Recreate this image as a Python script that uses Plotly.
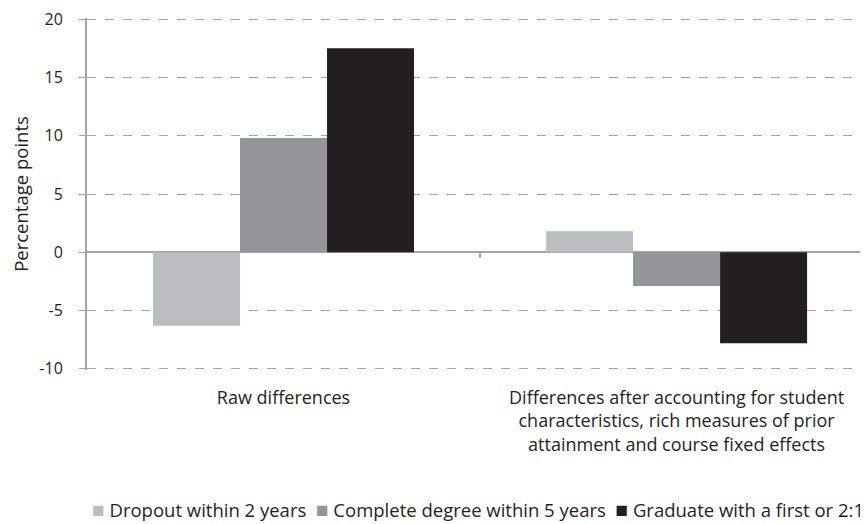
import plotly.graph_objects as go

# data
categories = [
    "Raw differences",
    "Differences after accounting for student<br>characteristics, rich measures of prior<br>attainment and course fixed effects",
]
series_names = [
    "Dropout within 2 years",
    "Complete degree within 5 years",
    "Graduate with a first or 2:1",
]
dropout = [-6.3, 1.8]
complete = [9.8, -2.9]
graduate = [17.5, -7.8]
colors = ["#bcbdc0", "#939598", "#231f20"]
y_ticks = [-10, -5, 0, 5, 10, 15, 20]
y_tick_text = ["-10", "-5", "0", "5", "10", "15", "20"]

FONT = "'Open Sans', Lato, sans-serif"
GREY = "#a5a5a5"

fig = go.Figure()
for name, vals, col in zip(series_names, [dropout, complete, graduate], colors):
    fig.add_trace(go.Bar(x=categories, y=vals, name=name, marker_color=col,
                         marker_line_width=0))

# the page body has an 8px margin, so the figure is 8px smaller than the window
fig.update_layout(
    width=860, height=516,
    margin=dict(l=79, r=0, t=10, b=154),
    plot_bgcolor="white", paper_bgcolor="white",
    barmode="group", bargap=0.336, bargroupgap=0,
    font=dict(family=FONT, size=16, color="#231f20"),
    showlegend=False,
)
# range padded a touch so the gridlines at -10 and 20 are still drawn
fig.update_yaxes(
    range=[-10.1, 20.1], tickvals=y_ticks, ticktext=y_tick_text, automargin=False,
    showgrid=True, gridcolor=GREY, griddash="dash", gridwidth=1,
    showline=True, linecolor=GREY, linewidth=2,
    ticks="outside", ticklen=6, tickcolor=GREY, ticklabelstandoff=13,
    ticklabeloverflow="allow",
    zeroline=True, zerolinecolor=GREY, zerolinewidth=2,
    title_text="Percentage points", title_font=dict(size=18.5), title_standoff=17,
    tickfont=dict(size=16),
)
fig.update_xaxes(range=[-0.5, 1.487], showgrid=False, showline=False, ticks="",
                 automargin=False, ticklabelstandoff=15, tickfont=dict(size=18))

# small divider tick on the zero line between the categories
fig.add_shape(type="line", xref="x", yref="y", x0=0.5, x1=0.5, y0=0, y1=-0.5,
              line=dict(color=GREY, width=2))

# compact legend row, as in the original (square swatch right next to its label)
legend_text = "  ".join(
    f"<span style='color:{c};font-size:21px'>■</span> {n}"
    for n, c in zip(series_names, colors)
)
fig.add_annotation(text=legend_text, xref="paper", yref="paper", x=0.5, y=-0.396,
                   xanchor="center", yanchor="middle", showarrow=False,
                   font=dict(size=18.5))

fig.write_html("out.html")
